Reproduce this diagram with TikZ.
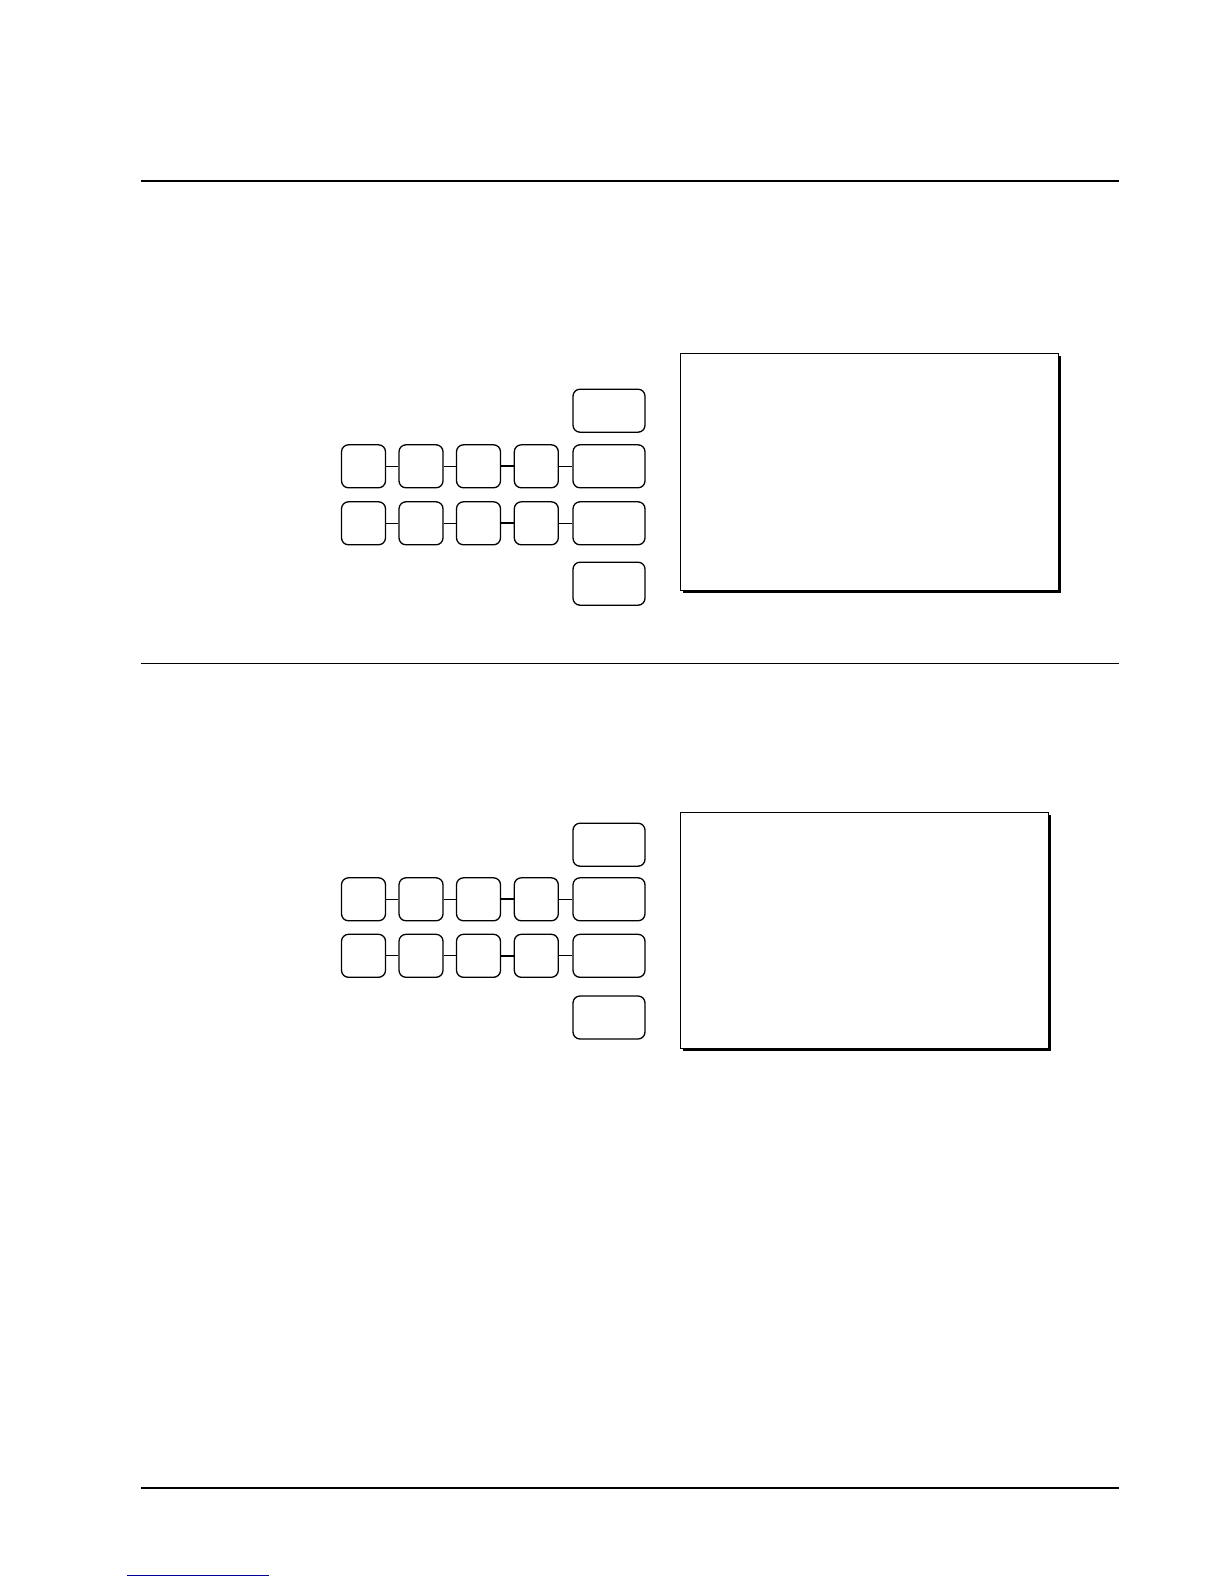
\documentclass[tikz,border=0pt]{standalone}
\begin{document}
\begin{tikzpicture}[x=1pt,y=-1pt,
  keysq/.style={draw,line width=1.3pt,rounded corners=7pt,minimum width=44pt,minimum height=43pt,inner sep=0pt},
  keywide/.style={draw,line width=1.3pt,rounded corners=7pt,minimum width=72pt,minimum height=43pt,inner sep=0pt},
  link/.style={line width=1pt},
  boldlink/.style={line width=2pt},
  rule/.style={line width=2pt},
  thinrule/.style={line width=1pt}]
\useasboundingbox[fill=white] (0,0) rectangle (1224,1584);
% rules
\coordinate (r1a) at (141,180.7); \coordinate (r1b) at (1119,180.7);
\coordinate (r2a) at (141,663.3); \coordinate (r2b) at (1119,663.3);
\coordinate (r3a) at (141,1487.7); \coordinate (r3b) at (1119,1487.7);
\coordinate (bla) at (127,1575); \coordinate (blb) at (269,1575);
\draw[rule] (r1a) -- (r1b);
\draw[thinrule] (r2a) -- (r2b);
\draw[rule] (r3a) -- (r3b);
\draw[line width=1pt,color=blue!60!black] (bla) -- (blb);
% section 1 keys
\node[keywide] (t1) at (609,410.7) {};
\node[keysq] (a1) at (363.5,466.3) {};
\node[keysq] (a2) at (421,466.3) {};
\node[keysq] (a3) at (478.5,466.3) {};
\node[keysq] (a4) at (536.3,466.3) {};
\node[keywide] (a5) at (609,466.3) {};
\node[keysq] (b1) at (363.5,523.3) {};
\node[keysq] (b2) at (421,523.3) {};
\node[keysq] (b3) at (478.5,523.3) {};
\node[keysq] (b4) at (536.3,523.3) {};
\node[keywide] (b5) at (609,523.3) {};
\node[keywide] (u1) at (609,583.7) {};
\draw[link] (a1) -- (a2); \draw[link] (a2) -- (a3); \draw[boldlink] (a3) -- (a4); \draw[link] (a4) -- (a5);
\draw[link] (b1) -- (b2); \draw[link] (b2) -- (b3); \draw[boldlink] (b3) -- (b4); \draw[link] (b4) -- (b5);
% section 1 screen
\fill (682.5,355.5) rectangle (1060.5,592.8);
\node[draw,fill=white,line width=1.1pt,anchor=north west,minimum width=378pt,minimum height=237pt,inner sep=0pt] (s1) at (679.5,352.5) {};
% section 2 keys
\node[keywide] (t2) at (609,844.7) {};
\node[keysq] (c1) at (363.5,899.3) {};
\node[keysq] (c2) at (421,899.3) {};
\node[keysq] (c3) at (478.5,899.3) {};
\node[keysq] (c4) at (536.3,899.3) {};
\node[keywide] (c5) at (609,899.3) {};
\node[keysq] (d1) at (363.5,955.8) {};
\node[keysq] (d2) at (421,955.8) {};
\node[keysq] (d3) at (478.5,955.8) {};
\node[keysq] (d4) at (536.3,955.8) {};
\node[keywide] (d5) at (609,955.8) {};
\node[keywide] (u2) at (609,1017.5) {};
\draw[link] (c1) -- (c2); \draw[link] (c2) -- (c3); \draw[boldlink] (c3) -- (c4); \draw[link] (c4) -- (c5);
\draw[link] (d1) -- (d2); \draw[link] (d2) -- (d3); \draw[boldlink] (d3) -- (d4); \draw[link] (d4) -- (d5);
% section 2 screen
\fill (682.5,814.5) rectangle (1050.8,1050.8);
\node[draw,fill=white,line width=1.3pt,anchor=north west,minimum width=368pt,minimum height=236pt,inner sep=0pt] (s2) at (679.5,811.5) {};
\end{tikzpicture}
\end{document}
